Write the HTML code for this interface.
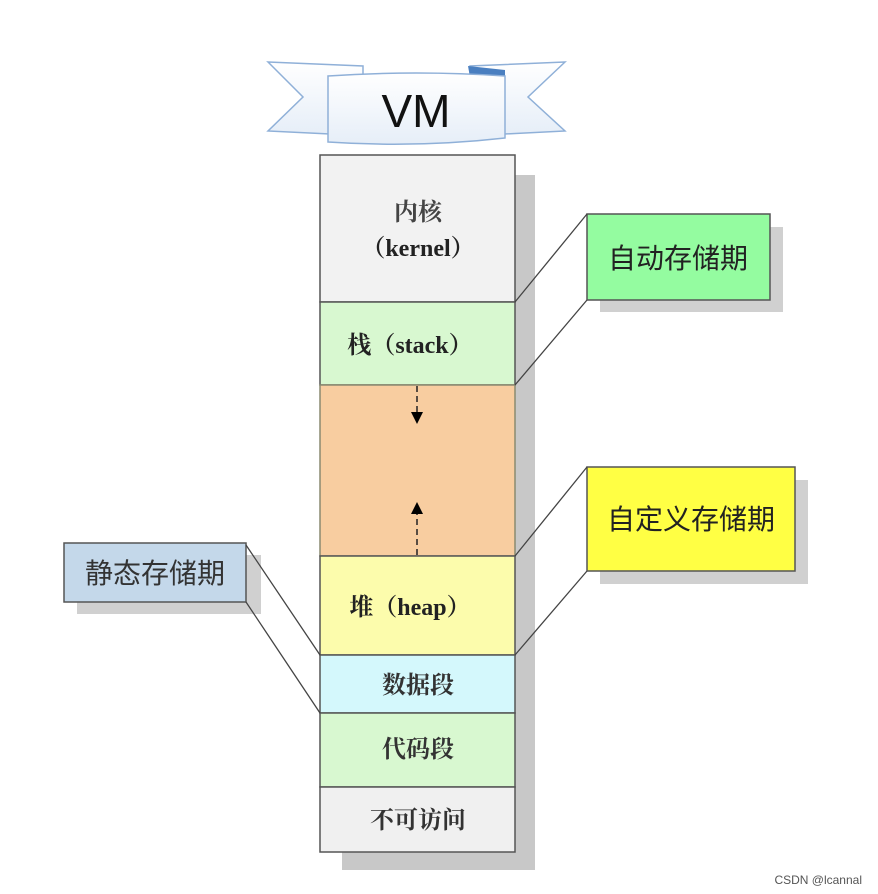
<!DOCTYPE html>
<html><head><meta charset="utf-8"><style>
html,body{margin:0;padding:0;background:#fff;}
svg{display:block;}
text{font-family:"Liberation Serif","Noto Serif CJK SC",serif;}
.s{font-family:"Liberation Sans","Noto Sans CJK SC",sans-serif;}
</style></head><body>
<svg width="878" height="894" viewBox="0 0 878 894" xmlns="http://www.w3.org/2000/svg">
<defs>
<linearGradient id="rb" x1="0" y1="0" x2="0" y2="1"><stop offset="0" stop-color="#ffffff"/><stop offset="1" stop-color="#e6eef8"/></linearGradient>
<marker id="ah" markerWidth="8" markerHeight="8" refX="4" refY="4" orient="auto"><path d="M0,0 L8,4 L0,8 z" fill="#000"/></marker>
</defs>
<polygon points="268,62 363,66 363,128 330,134 268,131 303,97" fill="url(#rb)" stroke="#8fb0d8" stroke-width="1.5"/>
<polygon points="565,62 470,66 470,128 505,134 565,131 528,97" fill="url(#rb)" stroke="#8fb0d8" stroke-width="1.5"/>
<polygon points="468,66 470,77 505,78 505,70" fill="#4a7fc0"/>
<path d="M328,76 Q416,70 505,76 L505,138 Q416,148 328,142 Z" fill="url(#rb)" stroke="#8fb0d8" stroke-width="1.5"/>
<text x="416" y="127" class="s" font-size="46" text-anchor="middle" fill="#111">VM</text>
<rect x="515" y="175" width="20" height="695" fill="#c8c8c8"/>
<rect x="342" y="852" width="193" height="18" fill="#c8c8c8"/>
<rect x="320" y="155" width="195" height="147" fill="#f2f2f2" stroke="#555" stroke-width="1.5"/>
<rect x="320" y="302" width="195" height="83" fill="#d8f8d0" stroke="#555" stroke-width="1.5"/>
<rect x="320" y="385" width="195" height="171" fill="#f8cda0" stroke="#8a8a70" stroke-width="1.5"/>
<rect x="320" y="556" width="195" height="99" fill="#fcfcac" stroke="#555" stroke-width="1.5"/>
<rect x="320" y="655" width="195" height="58" fill="#d4f8fc" stroke="#555" stroke-width="1.5"/>
<rect x="320" y="713" width="195" height="74" fill="#d8f8d0" stroke="#555" stroke-width="1.5"/>
<rect x="320" y="787" width="195" height="65" fill="#f0f0f0" stroke="#555" stroke-width="1.5"/>
<text x="418" y="220" font-size="24" text-anchor="middle" fill="#444" font-weight="bold">内核</text>
<text x="418" y="256" font-size="24" text-anchor="middle" fill="#222" font-weight="bold">（kernel）</text>
<text x="410" y="353" font-size="24" text-anchor="middle" fill="#222" font-weight="bold">栈（stack）</text>
<text x="410" y="615" font-size="24" text-anchor="middle" fill="#222" font-weight="bold">堆（heap）</text>
<text x="418" y="693" font-size="24" text-anchor="middle" fill="#333" font-weight="bold">数据段</text>
<text x="418" y="757" font-size="24" text-anchor="middle" fill="#333" font-weight="bold">代码段</text>
<text x="418" y="828" font-size="24" text-anchor="middle" fill="#333" font-weight="bold">不可访问</text>
<line x1="417" y1="386" x2="417" y2="418" stroke="#222" stroke-width="1.5" stroke-dasharray="6,4" marker-end="url(#ah)"/>
<line x1="417" y1="555" x2="417" y2="508" stroke="#222" stroke-width="1.5" stroke-dasharray="6,4" marker-end="url(#ah)"/>
<rect x="600" y="227" width="183" height="85" fill="#d0d0d0"/>
<rect x="587" y="214" width="183" height="86" fill="#94fca0" stroke="#555" stroke-width="1.5"/>
<text x="678" y="268" font-size="28" text-anchor="middle" fill="#222" class="s">自动存储期</text>
<rect x="600" y="480" width="208" height="104" fill="#d0d0d0"/>
<rect x="587" y="467" width="208" height="104" fill="#ffff44" stroke="#555" stroke-width="1.5"/>
<text x="691" y="529" font-size="28" text-anchor="middle" fill="#222" class="s">自定义存储期</text>
<rect x="77" y="555" width="184" height="59" fill="#d0d0d0"/>
<rect x="64" y="543" width="182" height="59" fill="#c4d8ea" stroke="#555" stroke-width="1.5"/>
<text x="155" y="583" font-size="28" text-anchor="middle" fill="#333" class="s">静态存储期</text>
<g stroke="#444" stroke-width="1.3">
<line x1="515" y1="302" x2="587" y2="214"/>
<line x1="515" y1="385" x2="587" y2="300"/>
<line x1="515" y1="556" x2="587" y2="467"/>
<line x1="515" y1="655" x2="587" y2="571"/>
<line x1="246" y1="545" x2="320" y2="655"/>
<line x1="246" y1="602" x2="320" y2="713"/>
</g>
<text x="862" y="884" font-size="12" text-anchor="end" fill="#555" class="s">CSDN @lcannal</text>
</svg>
</body></html>
